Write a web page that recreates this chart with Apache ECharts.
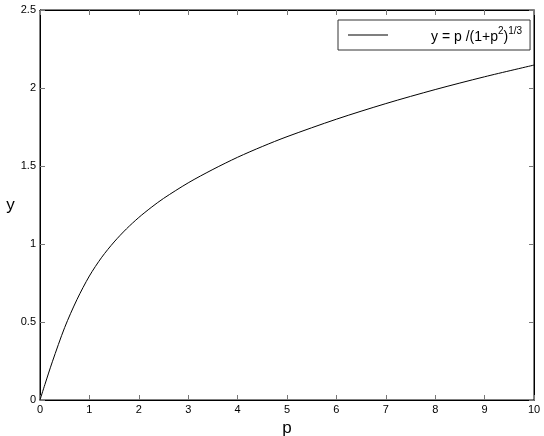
<!DOCTYPE html>
<html>
<head>
<meta charset="utf-8">
<script src="https://cdn.jsdelivr.net/npm/echarts@6/dist/echarts.min.js"></script>
<style>
  html, body { margin: 0; padding: 0; background: #fff; }
  #chart { width: 544px; height: 436px; }
</style>
</head>
<body>
<div id="chart"></div>
<script>
// values
const pValues = [0, 0.1, 0.25, 0.5, 0.75, 1, 1.25, 1.5, 1.75, 2, 2.25, 2.5, 3, 3.5, 4, 4.5, 5, 6, 7, 8, 9, 10];
const yValues = [0, 0.10, 0.245, 0.465, 0.645, 0.795, 0.915, 1.013, 1.097, 1.17, 1.234, 1.292, 1.392, 1.478, 1.556, 1.625, 1.688, 1.80, 1.90, 1.99, 2.072, 2.147];
const legendLabel = 'y = p /(1+p2)1/3';

const FONT = 'Liberation Sans, Arial, Helvetica, sans-serif';
const TICK = '#777';

const points = pValues.map((p, i) => [p, yValues[i]]);

const chart = echarts.init(document.getElementById('chart'), null, { renderer: 'canvas' });

const baseX = {
  type: 'value', min: 0, max: 10, interval: 1,
  axisLine: { show: true, onZero: false, lineStyle: { color: '#000', width: 1 } },
  axisTick: { show: true, inside: true, length: 5, lineStyle: { color: TICK } },
  splitLine: { show: false }
};
const baseY = {
  type: 'value', min: 0, max: 2.5, interval: 0.5,
  axisLine: { show: true, onZero: false, lineStyle: { color: '#000', width: 1 } },
  axisTick: { show: true, inside: true, length: 5, lineStyle: { color: TICK } },
  splitLine: { show: false }
};

chart.setOption({
  animation: false,
  backgroundColor: '#fff',
  grid: {
    left: 40, right: 10, top: 10, bottom: 36,
    outerBoundsMode: 'none', containLabel: false,
    show: true, borderColor: '#000', borderWidth: 1, backgroundColor: 'transparent'
  },
  legend: {
    left: 338, top: 20,
    orient: 'vertical',
    backgroundColor: '#fff',
    borderColor: '#333',
    borderWidth: 1,
    borderRadius: 0,
    padding: [6, 8, 6, 10],
    itemWidth: 40,
    itemHeight: 14,
    icon: 'path://M0,7L40,7L40,8L0,8Z',
    data: [{ name: legendLabel, itemStyle: { color: '#000' } }],
    formatter: () => '{sp|}{a|y = p /(1+p}{s|2}{a|)}{s|1/3}',
    textStyle: {
      fontFamily: FONT, color: '#000',
      rich: {
        sp: { width: 38 },
        a: { fontFamily: FONT, fontSize: 14, color: '#000', verticalAlign: 'bottom', lineHeight: 18 },
        s: { fontFamily: FONT, fontSize: 10, color: '#000', verticalAlign: 'top', lineHeight: 12 }
      }
    }
  },
  xAxis: [
    Object.assign({}, baseX, {
      position: 'bottom',
      name: 'p', nameLocation: 'middle', nameGap: 20,
      nameTextStyle: { fontFamily: FONT, fontSize: 17, color: '#000' },
      axisLabel: { fontFamily: FONT, fontSize: 11, color: '#000', margin: 4 }
    }),
    Object.assign({}, baseX, { position: 'top', axisLabel: { show: false } })
  ],
  yAxis: [
    Object.assign({}, baseY, {
      position: 'left',
      name: 'y', nameLocation: 'middle', nameGap: 24, nameRotate: 0,
      nameTextStyle: { fontFamily: FONT, fontSize: 17, color: '#000' },
      axisLabel: { fontFamily: FONT, fontSize: 11, color: '#000', margin: 4 }
    }),
    Object.assign({}, baseY, { position: 'right', axisLabel: { show: false } })
  ],
  series: [
    {
      name: legendLabel,
      type: 'line',
      data: points,
      smooth: 0.3,
      showSymbol: false,
      lineStyle: { color: '#000', width: 1 },
      itemStyle: { color: '#000' }
    },
    {
      // invisible copy so the mirrored top/right axes get drawn
      name: '__mirror',
      type: 'line',
      xAxisIndex: 1,
      yAxisIndex: 1,
      data: points,
      showSymbol: false,
      silent: true,
      lineStyle: { opacity: 0 },
      tooltip: { show: false }
    }
  ]
});
</script>
</body>
</html>
